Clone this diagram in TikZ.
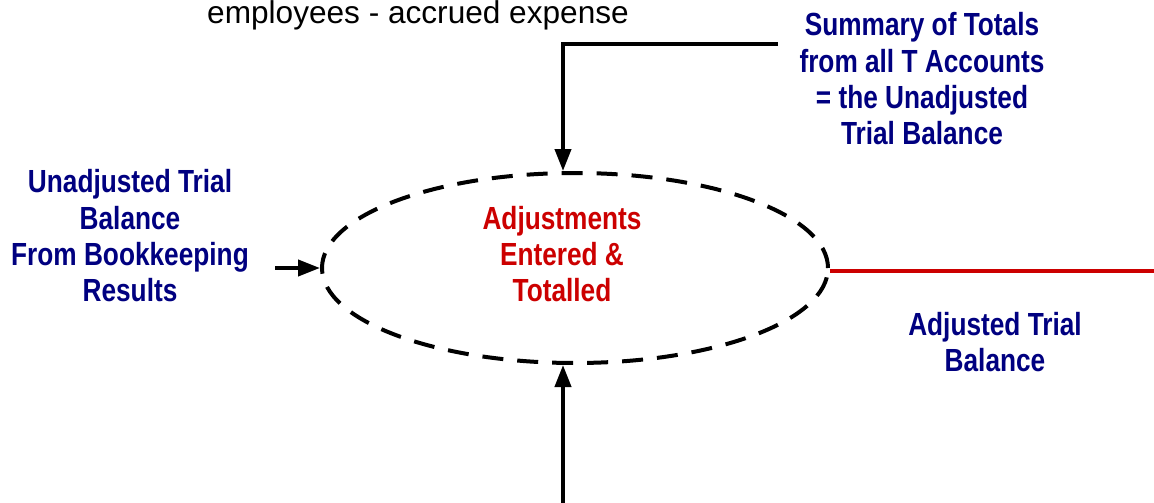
\documentclass[tikz,border=0pt]{standalone}
\usepackage{fontspec}
\setmainfont{Liberation Sans}
\newfontfamily\narrowfont[FakeStretch=0.82]{Liberation Sans}
\usetikzlibrary{arrows.meta,shapes.geometric}
\definecolor{navyblue}{RGB}{0,0,128}
\definecolor{boxred}{RGB}{204,0,0}
\begin{document}
\begin{tikzpicture}[x=1pt,y=-1pt,
  conn/.style={line width=4pt,-{Triangle[length=22pt,width=16pt]}},
  bluetext/.style={inner sep=0pt,align=center,text=navyblue,font=\narrowfont\bfseries\fontsize{32}{36.3}\selectfont},
  redtext/.style={inner sep=0pt,align=center,text=boxred,font=\narrowfont\bfseries\fontsize{32}{36.3}\selectfont},
  process/.style={ellipse,draw,line width=4pt,dash pattern=on 21pt off 14pt,minimum width=506pt,minimum height=190pt,inner sep=0pt}]
\useasboundingbox (0,0) rectangle (1154,503);
\node[process] (proc) at (575,268) {};
\node[redtext] (adjtext) at (562,254) {Adjustments\\Entered \&\\Totalled};
\node[inner sep=0pt,font=\fontsize{31.6}{36}\selectfont,anchor=base] (emp) at (418,24) {employees - accrued expense};
\node[bluetext] (summary) at (922,79) {Summary of Totals\\from all T Accounts\\= the Unadjusted\\Trial Balance};
\node[bluetext] (unadj) at (130,236) {Unadjusted Trial\\Balance\\From Bookkeeping\\Results};
\node[bluetext] (adjusted) at (995,342) {Adjusted Trial\\Balance};
\coordinate (topstart) at (778,44);
\coordinate (botstart) at (563,503);
\coordinate (leftstart) at (275,268);
\coordinate (redend) at (1154,271);
\draw[conn] (topstart) -| ([xshift=-12pt]proc.north);
\draw[conn] (botstart) -- ([xshift=-12pt]proc.south);
\draw[conn] (leftstart) -- (proc.west);
\draw[boxred,line width=4pt] (proc.east |- redend) -- (redend);
\end{tikzpicture}
\end{document}
